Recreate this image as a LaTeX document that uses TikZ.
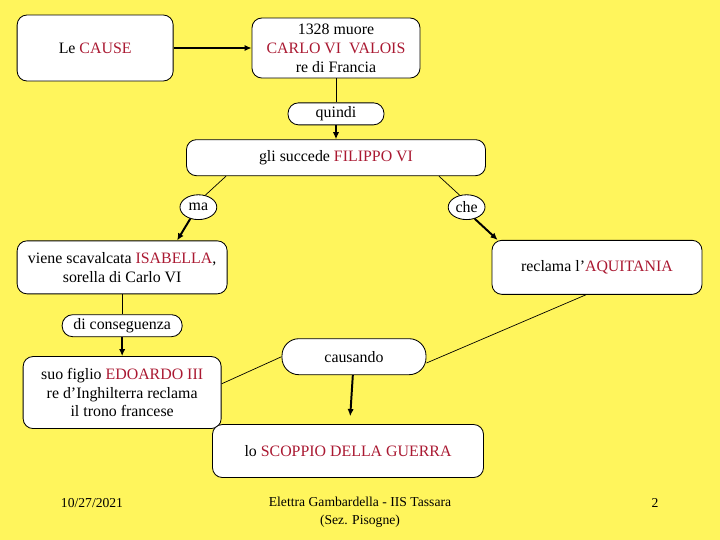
\documentclass[tikz,border=0pt]{standalone}
\usepackage{fontspec}
\setmainfont{Liberation Serif}
\definecolor{slideyellow}{RGB}{255,245,92}
\definecolor{namered}{RGB}{170,25,50}
\usetikzlibrary{positioning,arrows.meta,shapes.geometric,calc}
\newcommand{\hl}[1]{\textcolor{namered}{#1}}

\begin{document}
\begin{tikzpicture}[
    node distance=0.5cm and 0.5cm,
    box/.style ={rectangle, rounded corners=7pt, draw=black, line width=0.6pt, fill=white,
                 align=center, inner sep=1pt, font=\fontsize{11.3}{13.4}\selectfont},
    pill/.style={rectangle, rounded corners=7.5pt, draw=black, line width=0.6pt, fill=white,
                 minimum height=0.55cm, inner sep=1pt, font=\fontsize{11.3}{13.4}\selectfont},
    oval/.style={ellipse, draw=black, line width=0.6pt, fill=white, inner sep=0pt,
                 minimum width=0.92cm, minimum height=0.62cm, font=\fontsize{11.3}{13.4}\selectfont},
    foot/.style={align=center, font=\fontsize{9.7}{12.8}\selectfont},
    arr/.style ={-{Latex[length=5pt,width=4.5pt]}, line width=1.4pt},
    link/.style={line width=0.5pt}]
    \fill[slideyellow] (0,0) rectangle (18,-13.5);
    \useasboundingbox (0,0) rectangle (18,-13.5);
    % top row
    \node[box, minimum width=4.2cm, minimum height=1.5cm] (carlo) at (8.4,-1.2)
        {1328 muore\\ \hl{CARLO VI\ \ VALOIS}\\ re di Francia};
    \node[box, minimum width=3.9cm, minimum height=1.65cm, left=1.95cm of carlo] (cause) {Le \hl{CAUSE}};
    \node[pill, minimum width=2.4cm, below=0.6cm of carlo] (quindi) {quindi};
    \node[box, minimum width=7.475cm, minimum height=0.9cm, below=0.35cm of quindi] (filippo)
        {gli succede \hl{FILIPPO VI}};
    \node[oval, below right=0.55cm and -0.025cm of filippo.south west] (ma) {ma};
    \node[oval, below left=0.55cm and 0.15cm of filippo.south east] (che) {che};
    % middle row
    \node[box, minimum width=5.25cm, minimum height=1.325cm, below right=3.975cm and 0cm of cause.south west] (isabella)
        {viene scavalcata \hl{ISABELLA},\\ sorella di Carlo VI};
    \node[box, minimum width=5.25cm, minimum height=1.35cm, right=6.6cm of isabella] (aquitania)
        {reclama l'\hl{AQUITANIA}};
    \node[pill, minimum width=3.0cm, below=0.5cm of isabella] (consegue) {di conseguenza};
    \node[box, minimum width=4.95cm, minimum height=1.8cm, below=0.475cm of consegue] (edoardo)
        {suo figlio \hl{EDOARDO III}\\ re d'Inghilterra reclama\\ il trono francese};
    % bottom
    \node[box, minimum width=6.775cm, minimum height=1.325cm, below=6.2cm of filippo, xshift=0.3cm] (scoppio)
        {lo \hl{SCOPPIO DELLA GUERRA}};
    \node[pill, minimum width=3.6cm, minimum height=0.9cm, rounded corners=12pt,
          above=1.225cm of scoppio, xshift=0.15cm] (causando) {causando};
    % footer
    \node[foot] (date) at (2.3,-12.575) {10/27/2021};
    \node[foot] (author) at (9.0,-12.8) {Elettra Gambardella - IIS Tassara\\ (Sez. Pisogne)};
    \node[foot] (page) at (16.375,-12.575) {2};
    % connectors
    \draw[arr] (cause) -- (carlo);
    \draw[link] (carlo) -- (quindi);
    \draw[arr] (quindi) -- (filippo);
    \draw[link] ($(filippo.south west)+(1.0,0)$) -- (ma.60);
    \draw[link] ($(filippo.south east)+(-1.175,0)$) -- (che.120);
    \draw[arr] (ma.235) -- ($(isabella.north)+(1.375,0)$);
    \draw[arr] (che.-55) -- ($(aquitania.north west)+(0.15,0)$);
    \draw[link] (isabella) -- (consegue);
    \draw[arr] (consegue) -- (edoardo);
    \draw[link] (edoardo.5) -- (causando.west);
    \draw[link] ($(aquitania.south)+(-0.275,0)$) -- (causando.-5);
    \draw[arr, shorten >=0.2cm] (causando) -- (scoppio);
\end{tikzpicture}
\end{document}
